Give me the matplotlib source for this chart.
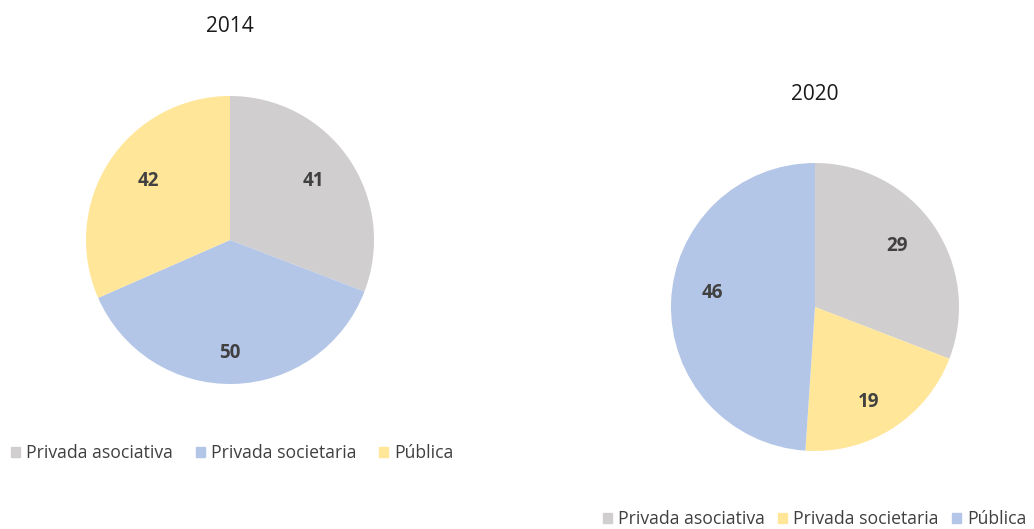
import matplotlib
matplotlib.use("Agg")
import matplotlib.pyplot as plt
from matplotlib.patches import Patch
import numpy as np

plt.rcParams["font.family"] = ["Open Sans", "DejaVu Sans"]

W, H = 1034, 529
R = 144  # pie radius in pixels

GREY = "#D0CECE"
BLUE = "#B4C6E7"
YELLOW = "#FFE699"
TEXT = "#404040"

# 2014: clockwise from the top
labels_2014 = ["Privada asociativa", "Privada societaria", "Pública"]
values_2014 = [41, 50, 42]
colors_2014 = [GREY, BLUE, YELLOW]

# 2020: clockwise from the top
labels_2020 = ["Privada asociativa", "Privada societaria", "Pública"]
values_2020 = [29, 19, 46]
colors_2020 = [GREY, YELLOW, BLUE]

fig = plt.figure(figsize=(W / 100, H / 100), dpi=100)


def pie_axes(cx, cy):
    # cx, cy are pixel coords measured from the top-left corner
    return fig.add_axes([(cx - R) / W, (H - cy - R) / H, 2 * R / W, 2 * R / H])


def draw_pie(ax, values, colors, dists, nudges):
    wedges, _ = ax.pie(values, colors=colors, startangle=90,
                       counterclock=False, radius=1)
    # value labels inside each wedge
    for w, v, d, n in zip(wedges, values, dists, nudges):
        ang = np.deg2rad((w.theta1 + w.theta2) / 2 + n)
        ax.text(d * np.cos(ang), d * np.sin(ang), str(v), ha="center",
                va="center", fontsize=13.5, fontweight="bold", color=TEXT)
    ax.set_xlim(-1, 1)
    ax.set_ylim(-1, 1)
    ax.set_aspect("equal")
    ax.axis("off")


ax1 = pie_axes(230, 240)
draw_pie(ax1, values_2014, colors_2014, [0.71, 0.785, 0.70], [1, -1.5, -2.5])
ax2 = pie_axes(815, 307)
draw_pie(ax2, values_2020, colors_2020, [0.71, 0.76, 0.72], [2.5, -3, -6])

fig.text(230 / W, 1 - 26 / H, "2014", ha="center", va="center",
         fontsize=15, color="#1a1a1a")
fig.text(815 / W, 1 - 94 / H, "2020", ha="center", va="center",
         fontsize=15, color="#1a1a1a")

legend_kw = dict(frameon=False, fontsize=12.7, handlelength=0.5,
                 handleheight=0.5, handletextpad=0.35,
                 ncol=3, loc="center left", borderaxespad=0, borderpad=0,
                 labelcolor=TEXT)

h1 = [Patch(color=c) for c in colors_2014]
fig.legend(h1, labels_2014, bbox_to_anchor=(11 / W, 1 - 453 / H),
           columnspacing=1.3, **legend_kw)

h2 = [Patch(color=c) for c in colors_2020]
fig.legend(h2, labels_2020, bbox_to_anchor=(603 / W, 1 - 519 / H),
           columnspacing=0.75, **legend_kw)

fig.savefig("out.png", dpi=100)
